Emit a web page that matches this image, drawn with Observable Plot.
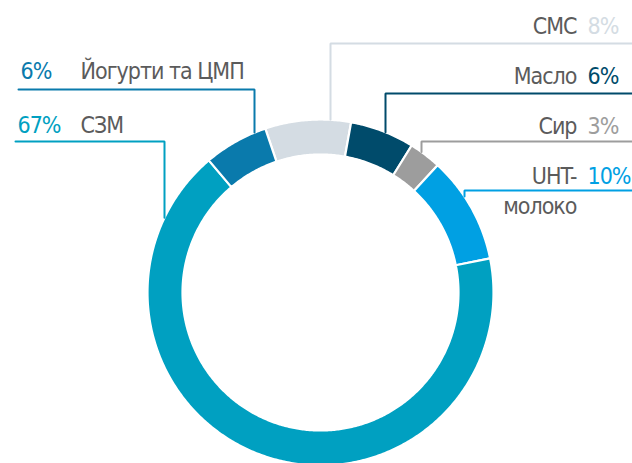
<!DOCTYPE html>
<html>
<head>
<meta charset="utf-8">
<script src="https://cdn.jsdelivr.net/npm/d3@7"></script>
<script src="https://cdn.jsdelivr.net/npm/@observablehq/plot@0.6"></script>
<style>
  html, body { margin: 0; padding: 0; background: #fff; }
  #chart svg { display: block; }
  #chart svg text { letter-spacing: -1px; }
</style>
</head>
<body>
<div id="chart"></div>
<script>
// ---- data (clockwise from top) ----
const categories = ["СМС", "Масло", "Сир", "UHT-молоко", "СЗМ", "Йогурти та ЦМП"];
const shares = [8, 6, 3, 10, 67, 6];
const colors = ["#d4dce3", "#004b6b", "#9d9d9d", "#00a0e3", "#00a0c1", "#0a7aac"];
const percentLabels = ["8%", "6%", "3%", "10%", "67%", "6%"];

// ---- layout ----
const W = 632, H = 463;
const cx = 320, cy = 292;           // pixel centre of the ring
const R = 173, r = 138;             // outer / inner radius
const startAngle = -18.6 * Math.PI / 180;
const font = "'DejaVu Sans Condensed', 'Liberation Sans Narrow', sans-serif";
const fs = 23;
const labelColor = "#5b5b5b";

// label layout (pixel coordinates): side, elbow x, horizontal line y, baseline
const layout = [
  {side: "right", vx: 330, ly: 43,  base: 33},
  {side: "right", vx: 385, ly: 93,  base: 83},
  {side: "right", vx: 421, ly: 141, base: 133},
  {side: "right", vx: 464, ly: 190, base: 183},
  {side: "left",  vx: 164, ly: 141, base: 132, x0: 15},
  {side: "left",  vx: 254, ly: 89,  base: 78,  x0: 18}
];

const X = px => px - cx;
const Y = py => cy - py;

// ---- slices via d3.pie ----
const table = categories.map((c, i) => ({category: c, value: shares[i], color: colors[i]}));
const arcs = d3.pie().sort(null).value(d => d.value)
  .startAngle(startAngle).endAngle(startAngle + 2 * Math.PI)(table);

const polys = [];
arcs.forEach((a, i) => {
  const n = Math.max(4, Math.ceil((a.endAngle - a.startAngle) / 0.01));
  const pts = [];
  for (let k = 0; k <= n; k++) {
    const t = a.startAngle + (a.endAngle - a.startAngle) * k / n;
    pts.push([R * Math.sin(t), R * Math.cos(t)]);
  }
  for (let k = n; k >= 0; k--) {
    const t = a.startAngle + (a.endAngle - a.startAngle) * k / n;
    pts.push([r * Math.sin(t), r * Math.cos(t)]);
  }
  pts.push(pts[0]);
  pts.forEach(p => polys.push({x: p[0], y: p[1], cat: a.data.category, color: a.data.color}));
});

// ---- leader lines ----
const leaders = [];
layout.forEach((L, i) => {
  const dx = L.vx - cx;
  const yEnd = cy - Math.sqrt(R * R - dx * dx);
  const xFar = L.side === "right" ? W : L.x0;
  [[xFar, L.ly], [L.vx, L.ly], [L.vx, yEnd]].forEach(p =>
    leaders.push({x: X(p[0]), y: Y(p[1]), cat: categories[i], color: colors[i]}));
});

// ---- texts ----
const texts = [];
layout.forEach((L, i) => {
  if (L.side === "right") {
    const name = categories[i] === "UHT-молоко" ? "UHT-" : categories[i];
    texts.push({x: X(576), y: Y(L.base), text: name, anchor: "end", color: labelColor});
    texts.push({x: X(587), y: Y(L.base), text: percentLabels[i], anchor: "start", color: colors[i]});
    if (categories[i] === "UHT-молоко")
      texts.push({x: X(576), y: Y(213), text: "молоко", anchor: "end", color: labelColor});
  } else {
    texts.push({x: X(L.x0 + 2), y: Y(L.base), text: percentLabels[i], anchor: "start", color: colors[i]});
    texts.push({x: X(80), y: Y(L.base), text: categories[i], anchor: "start", color: labelColor});
  }
});

const chart = Plot.plot({
  width: W, height: H,
  margin: 0,
  x: {domain: [X(0), X(W)], axis: null},
  y: {domain: [Y(H), Y(0)], axis: null},
  style: {background: "#fff"},
  marks: [
    Plot.line(polys, {x: "x", y: "y", z: "cat", fill: d => d.color, stroke: "#fff", strokeWidth: 2.2, curve: "linear"}),
    Plot.line(leaders, {x: "x", y: "y", z: "cat", stroke: d => d.color, strokeWidth: 2, strokeLinejoin: "miter"}),
    Plot.text(texts, {x: "x", y: "y", text: "text", textAnchor: "start", fill: d => d.color,
      fontSize: fs, fontFamily: font, lineAnchor: "bottom", filter: d => d.anchor === "start"}),
    Plot.text(texts, {x: "x", y: "y", text: "text", textAnchor: "end", fill: d => d.color,
      fontSize: fs, fontFamily: font, lineAnchor: "bottom", filter: d => d.anchor === "end"})
  ]
});
document.getElementById("chart").appendChild(chart);
</script>
</body>
</html>
